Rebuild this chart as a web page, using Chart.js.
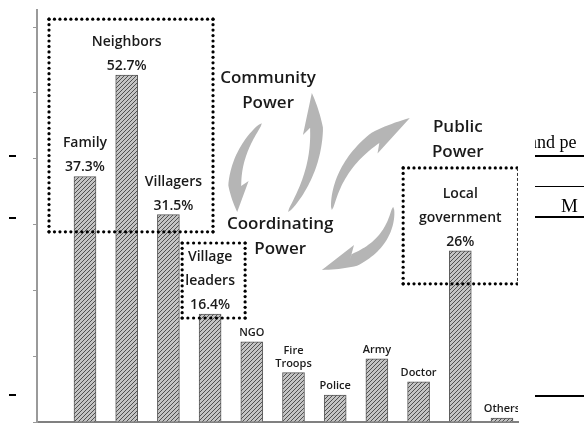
<!DOCTYPE html>
<html>
<head>
<meta charset="utf-8">
<script src="https://cdn.jsdelivr.net/npm/chart.js@4.4.1/dist/chart.umd.min.js"></script>
<style>
  body { margin: 0; background: #fff; }
  #marco { width: 584px; height: 425px; position: relative; }
</style>
</head>
<body>
<div id="marco"><canvas id="grafico"></canvas></div>
<script>
const categorias = ["Family", "Neighbors", "Villagers", "Village\nleaders", "NGO", "Fire\nTroops", "Police", "Army", "Doctor", "Local\ngovernment", "Others"];
const valores = [37.3, 52.7, 31.5, 16.4, 12.2, 7.5, 4.1, 9.6, 6.1, 26, 0.6];
const porcentajes = ["37.3%", "52.7%", "31.5%", "16.4%", "", "", "", "", "", "26%", ""];
const poderes = [["Community", "Power"], ["Coordinating", "Power"], ["Public", "Power"]];

// trama rayada de las barras
function crearTrama() {
    const c = document.createElement("canvas");
    c.width = 4; c.height = 4;
    const g = c.getContext("2d");
    g.fillStyle = "#c4c4c4";
    g.fillRect(0, 0, 4, 4);
    g.strokeStyle = "#505050";
    g.lineWidth = 1;
    g.beginPath();
    g.moveTo(0, 4); g.lineTo(4, 0);
    g.moveTo(-1, 1); g.lineTo(1, -1);
    g.moveTo(3, 5); g.lineTo(5, 3);
    g.stroke();
    return g.createPattern(c, "repeat");
}

// flecha curva con una sola punta (tipo arpón)
function flecha(ctx, a, c, b, w, centro) {
    const pt = t => ({
        x: (1 - t) * (1 - t) * a.x + 2 * (1 - t) * t * c.x + t * t * b.x,
        y: (1 - t) * (1 - t) * a.y + 2 * (1 - t) * t * c.y + t * t * b.y
    });
    const nor = t => {
        const dx = 2 * (1 - t) * (c.x - a.x) + 2 * t * (b.x - c.x);
        const dy = 2 * (1 - t) * (c.y - a.y) + 2 * t * (b.y - c.y);
        const l = Math.hypot(dx, dy);
        return { x: -dy / l, y: dx / l };
    };
    const ancho = t => t < 0.72 ? w / 2 * Math.sqrt(t / 0.72) : w / 2 * (1 - t) / 0.28;
    const p7 = pt(0.7), n7 = nor(0.7);
    const lado = (n7.x * (centro.x - p7.x) + n7.y * (centro.y - p7.y)) > 0 ? 1 : -1;
    ctx.beginPath();
    for (let i = 0; i <= 40; i++) {
        const t = i / 40, p = pt(t), n = nor(t), h = ancho(t);
        ctx.lineTo(p.x - lado * n.x * h, p.y - lado * n.y * h);
    }
    let p = pt(0.66), n = nor(0.66);
    ctx.lineTo(p.x + lado * n.x * (w / 2 + 7), p.y + lado * n.y * (w / 2 + 7));
    p = pt(0.76); n = nor(0.76);
    ctx.lineTo(p.x + lado * n.x * w * 0.15, p.y + lado * n.y * w * 0.15);
    for (let i = 29; i >= 0; i--) {
        const t = i / 40, q = pt(t), m = nor(t), h = ancho(t);
        ctx.lineTo(q.x + lado * m.x * h, q.y + lado * m.y * h);
    }
    ctx.closePath();
    ctx.fill();
}

function cajaPunteada(ctx, x0, y0, x1, y1, bordeDerechoFino) {
    const puntos = (xa, ya, xb, yb) => {
        const l = Math.hypot(xb - xa, yb - ya);
        const n = Math.max(1, Math.round(l / 5.5));
        for (let i = 0; i <= n; i++) {
            ctx.beginPath();
            ctx.arc(xa + (xb - xa) * i / n, ya + (yb - ya) * i / n, 1.6, 0, Math.PI * 2);
            ctx.fill();
        }
    };
    ctx.fillStyle = "#000";
    puntos(x0, y0, x1, y0);
    puntos(x0, y0, x0, y1);
    puntos(x0, y1, x1, y1);
    if (bordeDerechoFino) {
        ctx.save();
        ctx.strokeStyle = "#333";
        ctx.lineWidth = 1;
        ctx.setLineDash([3, 2]);
        ctx.beginPath();
        ctx.moveTo(x1 + 0.5, y0);
        ctx.lineTo(x1 + 0.5, y1);
        ctx.stroke();
        ctx.restore();
    } else {
        puntos(x1, y0, x1, y1);
    }
}

const fuente = "'Open Sans', sans-serif";

const anotaciones = {
    id: "anotaciones",
    afterDatasetsDraw(chart) {
        const ctx = chart.ctx;
        const sx = chart.scales.x, sy = chart.scales.y;
        const P = (xv, yv) => ({ x: sx.getPixelForValue(xv), y: sy.getPixelForValue(yv) });
        const area = chart.chartArea;

        ctx.save();
        ctx.beginPath();
        ctx.rect(0, 0, area.right, chart.height);
        ctx.clip();

        // flechas grises
        ctx.fillStyle = "#b5b5b5";
        const c1 = P(5.71, 38.6), c2 = P(7.87, 33.4);
        flecha(ctx, P(5.24, 45.4), P(4.39, 39.4), P(4.65, 31.9), 13, c1);
        flecha(ctx, P(5.87, 31.9), P(6.83, 40.2), P(6.44, 50.0), 13, c1);
        flecha(ctx, P(6.92, 32.2), P(7.08, 41.3), P(8.79, 46.2), 13, c2);
        flecha(ctx, P(8.39, 32.7), P(8.31, 25.1), P(6.68, 23.1), 13, c2);

        // cajas punteadas
        let a = P(0.137, 61.2), b = P(4.07, 28.9);
        cajaPunteada(ctx, a.x, a.y, b.x, b.y, false);
        a = P(3.33, 27.2); b = P(4.84, 15.8);
        cajaPunteada(ctx, a.x, a.y, b.x, b.y, false);
        a = P(8.63, 38.6); b = P(11.36, 21.0);
        cajaPunteada(ctx, a.x, a.y, b.x, b.y, true);

        // textos de poder
        ctx.fillStyle = "#1a1a1a";
        ctx.textAlign = "center";
        ctx.textBaseline = "middle";
        ctx.font = "600 17px " + fuente;
        const lugares = [[5.39, 52.3], [5.68, 30.1], [9.94, 44.8]];
        poderes.forEach((lineas, k) => {
            const p = P(lugares[k][0], lugares[k][1]);
            lineas.forEach((txt, j) => ctx.fillText(txt, p.x, p.y + j * 25));
        });

        // etiquetas sobre las barras
        const meta = chart.getDatasetMeta(0);
        meta.data.forEach((barra, i) => {
            const grande = porcentajes[i] !== "";
            const lineas = categorias[i].split("\n");
            let cx = barra.x + (i === 2 ? 5 : 0);
            if (grande) {
                ctx.font = "600 14px " + fuente;
                ctx.fillText(porcentajes[i], cx, barra.y - 9);
                lineas.forEach((txt, j) => {
                    ctx.fillText(txt, cx, barra.y - 33 - (lineas.length - 1 - j) * 24);
                });
            } else {
                ctx.font = "600 11px " + fuente;
                const paso = 13;
                lineas.forEach((txt, j) => {
                    ctx.fillText(txt, cx, barra.y - 9 - (lineas.length - 1 - j) * paso);
                });
            }
        });
        ctx.restore();

        // restos del documento alrededor
        ctx.save();
        ctx.fillStyle = "#000";
        ctx.fillRect(9, 155, 7, 2);
        ctx.fillRect(9, 217, 7, 2);
        ctx.fillRect(9, 394, 7, 2);
        ctx.beginPath();
        ctx.rect(535, 0, 49, chart.height);
        ctx.clip();
        ctx.font = "18px 'Liberation Serif', serif";
        ctx.textAlign = "left";
        ctx.textBaseline = "alphabetic";
        ctx.fillText("and pe", 529, 148);
        ctx.font = "19px 'Liberation Serif', serif";
        ctx.fillText("M", 561, 212);
        ctx.fillRect(535, 155, 49, 2);
        ctx.fillRect(535, 186, 49, 1);
        ctx.fillRect(535, 216, 49, 2);
        ctx.fillRect(535, 395, 49, 2);
        ctx.restore();
    }
};

const ctx = document.getElementById("grafico").getContext("2d");
const grafico = new Chart(ctx, {
    type: "bar",
    data: {
        datasets: [{
            data: valores.map((v, i) => ({ x: i + 1, y: v })),
            backgroundColor: crearTrama(),
            borderColor: "#5a5a5a",
            borderWidth: 1,
            barThickness: 22
        }]
    },
    options: {
        responsive: true,
        maintainAspectRatio: false,
        animation: false,
        layout: { padding: { left: 33, right: 66, top: 10, bottom: 3 } },
        plugins: { legend: { display: false }, tooltip: { enabled: false } },
        scales: {
            x: {
                type: "linear",
                offset: false,
                min: -0.151,
                max: 11.384,
                ticks: { display: false },
                grid: { display: false, drawTicks: false },
                border: { display: true, color: "#808080", width: 2 },
                afterFit: s => { s.height = 0; }
            },
            y: {
                min: 0,
                max: 62.6,
                ticks: { display: false, stepSize: 10, includeBounds: false },
                grid: { drawOnChartArea: false, drawTicks: true, tickLength: 4, color: "#999" },
                border: { display: true, color: "#9a9a9a", width: 2 },
                afterFit: s => { s.width = 4; }
            }
        }
    },
    plugins: [anotaciones]
});
</script>
</body>
</html>
